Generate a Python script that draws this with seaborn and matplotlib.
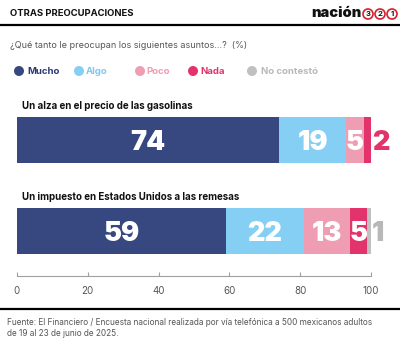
import matplotlib
matplotlib.use("Agg")
import matplotlib.pyplot as plt
import seaborn as sns
import pandas as pd
from matplotlib.patches import Circle
from matplotlib.lines import Line2D

categories = ["Un alza en el precio de las gasolinas",
              "Un impuesto en Estados Unidos a las remesas"]
series_names = ["Mucho", "Algo", "Poco", "Nada", "No contestó"]
mucho = [74, 59]
algo = [19, 22]
poco = [5, 13]
nada = [2, 5]
no_contesto = [0, 1]
xticks = [0, 20, 40, 60, 80, 100]

colors = ["#36487f", "#86cff4", "#ee9db2", "#e2336a", "#c0c0c0"]
legend_text_colors = ["#2a3a78", "#7ec9f0", "#ee9db2", "#e2336a", "#b8b8b8"]

title = "OTRAS PREOCUPACIONES"
subtitle = "¿Qué tanto le preocupan los siguientes asuntos...?  (%)"
footnote = ("Fuente: El Financiero / Encuesta nacional realizada por vía telefónica a 500 mexicanos adultos\n"
            "de 19 al 23 de junio de 2025.")

sns.set_theme(style="white")
FONT = ["Inter", "DejaVu Sans"]
plt.rcParams["font.family"] = FONT

W, H = 400, 344
fig = plt.figure(figsize=(W / 100, H / 100), dpi=100)

# main axes
ax_top_px, ax_bot_px = 100, 276
ax = fig.add_axes([17 / W, (H - ax_bot_px) / H, (371 - 17) / W, (ax_bot_px - ax_top_px) / H])

values = [mucho, algo, poco, nada, no_contesto]
rows = []
for si, name in enumerate(series_names):
    for ci, cat in enumerate(categories):
        cum = sum(values[k][ci] for k in range(si + 1))
        rows.append({"serie": name, "categoria": cat, "cum": cum})
df = pd.DataFrame(rows)

for si in reversed(range(len(series_names))):
    sub = df[df["serie"] == series_names[si]]
    sns.barplot(data=sub, x="cum", y="categoria", order=categories, orient="h",
                color=colors[si], width=0.51, saturation=1, ax=ax, errorbar=None,
                edgecolor="none", linewidth=0)

ax.set_xlim(0, 100)
ax.set_ylim(1.495, -0.44)
ax.set_xlabel("")
ax.set_ylabel("")
ax.set_yticks([])
ax.set_xticks(xticks)
ax.set_xticklabels([str(t) for t in xticks])
for s in ["top", "left", "right"]:
    ax.spines[s].set_visible(False)
ax.spines["bottom"].set_color("#a0a0a0")
ax.spines["bottom"].set_linewidth(0.8)
ax.tick_params(axis="x", direction="in", length=3, width=0.8, color="#a0a0a0",
               labelsize=7, labelcolor="#555555", pad=7, bottom=True)
ax.patch.set_alpha(0)

# value labels
for ci in range(len(categories)):
    left = 0
    for si in range(len(series_names)):
        v = values[si][ci]
        if v == 0:
            continue
        if v >= 5:
            ax.text(left + v / 2, ci, str(v), ha="center", va="center_baseline",
                    color="white", fontsize=19.5, fontweight=900)
        else:
            ax.text(100.3, ci, str(v), ha="left", va="center_baseline",
                    color=colors[si] if si != 4 else "#b8b8b8", fontsize=19.5, fontweight=900)
        left += v
    ax.text(1.4, ci - 0.37, categories[ci], ha="left", va="center",
            color="#111111", fontsize=7, fontweight="bold")

# overlay axes in pixel coordinates
ov = fig.add_axes([0, 0, 1, 1])
ov.set_xlim(0, W)
ov.set_ylim(H, 0)
ov.axis("off")
ov.patch.set_alpha(0)

ov.text(10, 14, title, ha="left", va="center", fontsize=6.8, fontweight="bold", color="#111111")
ov.add_line(Line2D([0, W], [24.5, 24.5], color="black", lw=1.6))
ov.add_line(Line2D([0, W], [309, 309], color="black", lw=1.6))

# logo
ov.text(362, 13, "nación", ha="right", va="center", fontsize=10.5, fontweight=900, color="#111111")
for x0, d in zip([368, 380, 392], ["3", "2", "1"]):
    ov.add_patch(Circle((x0, 14), 5, facecolor="white", edgecolor="#d6202f", lw=1.2))
    ov.text(x0, 14.3, d, ha="center", va="center", fontsize=5.5, fontweight="bold", color="#111111")

ov.text(10, 45, subtitle, ha="left", va="center", fontsize=6.5, color="#555555")

# legend
leg_circ = [19, 79, 140, 193, 252]
leg_txt = [27, 86, 146.5, 200, 261]
for i, name in enumerate(series_names):
    ov.add_patch(Circle((leg_circ[i], 71), 5, facecolor=colors[i], edgecolor="none"))
    ov.text(leg_txt[i], 71, name, ha="left", va="center", fontsize=6.9,
            fontweight="bold", color=legend_text_colors[i])

ov.text(7, 328, footnote, ha="left", va="center", fontsize=5.9, color="#555555", linespacing=1.3)

fig.savefig("out.png", dpi=100)
